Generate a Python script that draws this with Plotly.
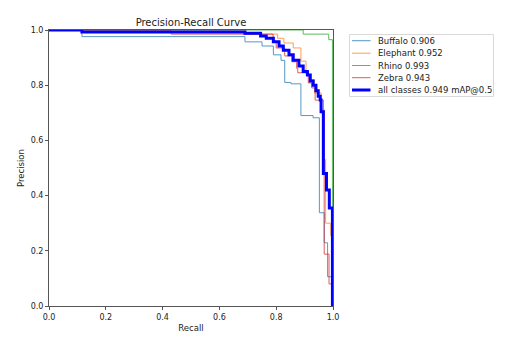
import plotly.graph_objects as go

# ---- data (recall breakpoints, precision after each step) ----
buffalo_r = [0.0, 0.116, 0.69, 0.75, 0.79, 0.817, 0.83, 0.852, 0.887, 0.93, 0.952, 0.969, 0.981, 1.0]
buffalo_p = [1.0, 0.976, 0.957, 0.942, 0.91, 0.89, 0.81, 0.805, 0.69, 0.682, 0.338, 0.229, 0.106, 0.0]

elephant_r = [0.0, 0.69, 0.805, 0.827, 0.86, 0.887, 0.905, 0.92, 0.935, 0.958, 0.965, 0.974, 0.992, 1.0]
elephant_p = [1.0, 0.985, 0.97, 0.953, 0.935, 0.887, 0.84, 0.82, 0.772, 0.71, 0.53, 0.30, 0.254, 0.0]

rhino_r = [0.0, 0.895, 0.985, 0.998, 1.0]
rhino_p = [1.0, 0.985, 0.965, 0.0, 0.0]

zebra_r = [0.0, 0.43, 0.789, 0.80, 0.83, 0.855, 0.872, 0.876, 0.913, 0.925, 0.937, 0.966, 0.969, 0.986, 1.0]
zebra_p = [1.0, 0.985, 0.96, 0.935, 0.906, 0.885, 0.861, 0.845, 0.808, 0.79, 0.746, 0.71, 0.188, 0.08, 0.0]

all_r = [0.0, 0.116, 0.69, 0.745, 0.765, 0.79, 0.81, 0.825, 0.845, 0.86, 0.88, 0.895, 0.91,
         0.92, 0.93, 0.94, 0.948, 0.955, 0.958, 0.966, 0.977, 0.987, 0.998, 1.0]
all_p = [1.0, 0.993, 0.988, 0.978, 0.97, 0.957, 0.942, 0.927, 0.91, 0.89, 0.87, 0.85, 0.837,
         0.815, 0.80, 0.78, 0.76, 0.746, 0.704, 0.48, 0.42, 0.355, 0.0, 0.0]

names = ["Buffalo 0.906", "Elephant 0.952", "Rhino 0.993", "Zebra 0.943", "all classes 0.949 mAP@0.5"]
colors = ["#1f77b4", "#ff7f0e", "#2ca02c", "#d62728", "blue"]
xs = [buffalo_r, elephant_r, rhino_r, zebra_r, all_r]
ys = [buffalo_p, elephant_p, rhino_p, zebra_p, all_p]
widths = [1, 1, 1, 1, 3]

# ---- layout constants (pixels) ----
W, H = 515, 350
L, R, T, B = 49, 333, 30, 306
PW, PH = R - L, B - T
font = "DejaVu Sans"


def px2x(px):
    return (px - L) / PW


def py2y(py):
    return (B - py) / PH


fig = go.Figure()
for x, y, n, c, w in zip(xs, ys, names, colors, widths):
    fig.add_trace(go.Scatter(x=x, y=y, mode="lines", name=n, showlegend=False,
                             line=dict(color=c, width=w, shape="hv"),
                             opacity=1.0 if w > 1 else 0.75))

axis_common = dict(range=[0, 1], tickmode="linear", tick0=0, dtick=0.2, tickformat=".1f",
                   showgrid=False, zeroline=False, showline=True, linecolor="#555",
                   linewidth=1, mirror=True, ticks="outside", ticklen=3, tickcolor="#555",
                   tickfont=dict(family=font, size=8, color="#222"))
fig.update_xaxes(title=dict(text="Recall", font=dict(family=font, size=8.5, color="#222"), standoff=4),
                 **axis_common)
fig.update_yaxes(title=dict(text="Precision", font=dict(family=font, size=8.5, color="#222"), standoff=4),
                 **axis_common)

# ---- manual legend (matplotlib style) ----
shapes = [dict(type="rect", xref="paper", yref="paper",
               x0=px2x(349.5), x1=px2x(493.5), y0=py2y(34.5), y1=py2y(96.5),
               line=dict(color="#d9d9d9", width=1), fillcolor="white", layer="above")]
annotations = []
row_y = [40.7, 53.2, 65.5, 77.7, 90.0]
for n, c, w, ry in zip(names, colors, widths, row_y):
    shapes.append(dict(type="line", xref="paper", yref="paper",
                       x0=px2x(352), x1=px2x(370.5), y0=py2y(ry), y1=py2y(ry),
                       line=dict(color=c, width=w), opacity=1.0 if w > 1 else 0.75, layer="above"))
    annotations.append(dict(text=n, xref="paper", yref="paper", x=px2x(376), y=py2y(ry),
                            xanchor="left", yanchor="middle", showarrow=False,
                            font=dict(family=font, size=8.5, color="#222")))

fig.update_layout(
    width=W, height=H,
    margin=dict(l=L, r=W - R, t=T, b=H - B),
    paper_bgcolor="white", plot_bgcolor="white",
    title=dict(text="Precision-Recall Curve", x=191 / W, xanchor="center",
               y=1 - 22.5 / H, yanchor="middle",
               font=dict(family=font, size=10, color="#222")),
    shapes=shapes, annotations=annotations,
    showlegend=False,
)

fig.write_html("out.html")
